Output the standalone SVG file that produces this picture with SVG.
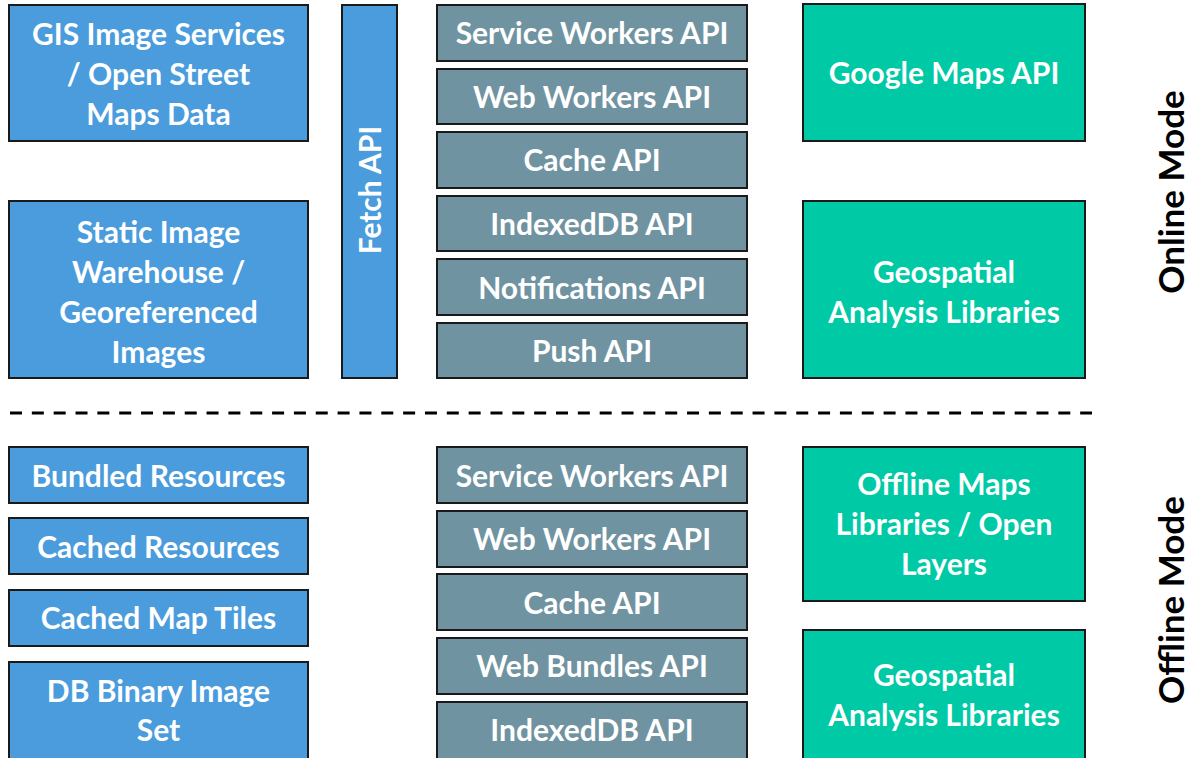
<svg xmlns="http://www.w3.org/2000/svg" width="1193" height="758" viewBox="0 0 1193 758">
<style>
.b{fill:#4A9CDC;stroke:#1a1a1a;stroke-width:2}
.g{fill:#7093A1;stroke:#1a1a1a;stroke-width:2}
.t{fill:#00C9A5;stroke:#1a1a1a;stroke-width:2}
text{font-family:Lato,"Open Sans",sans-serif;font-weight:bold;font-size:30px;fill:#fff;text-anchor:middle}
.m{fill:#000;font-size:35px}
</style>
<rect width="1193" height="758" fill="#fff"/>
<g id="connectors">
<line x1="10" y1="413" x2="1092" y2="413" stroke="#000" stroke-width="3" stroke-dasharray="12,9.84"/>
</g>
<g id="gis"><rect class="b" x="9" y="5" width="299" height="136"/><text x="158.5" y="45">GIS Image Services</text><text x="158.5" y="85">/ Open Street</text><text x="158.5" y="125">Maps Data</text></g>
<g id="static"><rect class="b" x="9" y="201" width="299" height="177"/><text x="158.5" y="243">Static Image</text><text x="158.5" y="283">Warehouse /</text><text x="158.5" y="323">Georeferenced</text><text x="158.5" y="363">Images</text></g>
<g id="fetch"><rect class="b" x="342" y="5" width="55" height="373"/><text transform="translate(380.5,190) rotate(-90)">Fetch API</text></g>
<g id="on-sw"><rect class="g" x="437" y="5" width="310" height="56"/><text x="592" y="44">Service Workers API</text></g>
<g id="on-ww"><rect class="g" x="437" y="69" width="310" height="55"/><text x="592" y="108">Web Workers API</text></g>
<g id="on-cache"><rect class="g" x="437" y="132" width="310" height="56"/><text x="592" y="171">Cache API</text></g>
<g id="on-idb"><rect class="g" x="437" y="196" width="310" height="55"/><text x="592" y="235">IndexedDB API</text></g>
<g id="on-notif"><rect class="g" x="437" y="259" width="310" height="56"/><text x="592" y="299">Notifications API</text></g>
<g id="on-push"><rect class="g" x="437" y="323" width="310" height="55"/><text x="592" y="362">Push API</text></g>
<g id="gmaps"><rect class="t" x="803" y="4" width="282" height="137"/><text x="944" y="84">Google Maps API</text></g>
<g id="on-geo"><rect class="t" x="803" y="201" width="282" height="177"/><text x="944" y="283">Geospatial</text><text x="944" y="323">Analysis Libraries</text></g>
<g id="online-label"><text class="m" transform="translate(1184,192) rotate(-90)">Online Mode</text></g>
<g id="bundled"><rect class="b" x="9" y="447" width="299" height="56"/><text x="158.5" y="487">Bundled Resources</text></g>
<g id="cached-res"><rect class="b" x="9" y="518" width="299" height="56"/><text x="158.5" y="558">Cached Resources</text></g>
<g id="cached-tiles"><rect class="b" x="9" y="590" width="299" height="56"/><text x="158.5" y="629">Cached Map Tiles</text></g>
<g id="db-binary"><rect class="b" x="9" y="662" width="299" height="110"/><text x="158.5" y="702">DB Binary Image</text><text x="158.5" y="741">Set</text></g>
<g id="off-sw"><rect class="g" x="437" y="447" width="310" height="56"/><text x="592" y="487">Service Workers API</text></g>
<g id="off-ww"><rect class="g" x="437" y="511" width="310" height="56"/><text x="592" y="550">Web Workers API</text></g>
<g id="off-cache"><rect class="g" x="437" y="574" width="310" height="56"/><text x="592" y="614">Cache API</text></g>
<g id="off-bundles"><rect class="g" x="437" y="638" width="310" height="56"/><text x="592" y="677">Web Bundles API</text></g>
<g id="off-idb"><rect class="g" x="437" y="702" width="310" height="70"/><text x="592" y="741">IndexedDB API</text></g>
<g id="offline-maps"><rect class="t" x="803" y="447" width="282" height="154"/><text x="944" y="495">Offline Maps</text><text x="944" y="535">Libraries / Open</text><text x="944" y="575">Layers</text></g>
<g id="off-geo"><rect class="t" x="803" y="630" width="282" height="142"/><text x="944" y="686">Geospatial</text><text x="944" y="726">Analysis Libraries</text></g>
<g id="offline-label"><text class="m" transform="translate(1184,600) rotate(-90)">Offline Mode</text></g>
</svg>
